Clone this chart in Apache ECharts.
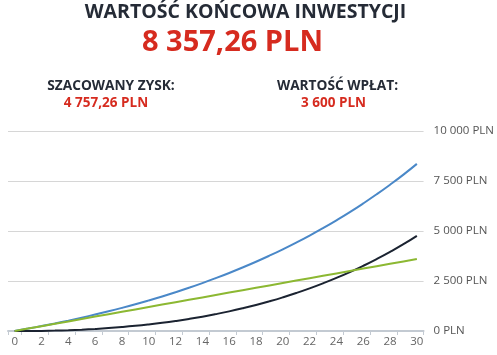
<!DOCTYPE html>
<html>
<head>
<meta charset="utf-8">
<script src="https://cdn.jsdelivr.net/npm/echarts@6/dist/echarts.min.js"></script>
<style>
html,body{margin:0;padding:0;background:#fff;}
#c{width:497px;height:355px;}
</style>
</head>
<body>
<div id="c"></div>
<script>
var years = ['0','1','2','3','4','5','6','7','8','9','10','11','12','13','14','15','16','17','18','19','20','21','22','23','24','25','26','27','28','29','30'];
var totalValue = [0,120,246,379,519,667,822,985,1157,1338,1529,1729,1940,2162,2396,2643,2902,3175,3462,3765,4083,4418,4771,5143,5534,5945,6379,6835,7315,7820,8357.26];
var contributions = [0,120,240,360,480,600,720,840,960,1080,1200,1320,1440,1560,1680,1800,1920,2040,2160,2280,2400,2520,2640,2760,2880,3000,3120,3240,3360,3480,3600];
var profit = [0,0,6,19,39,67,102,145,197,258,329,409,500,602,716,843,982,1135,1302,1485,1683,1898,2131,2383,2654,2945,3259,3595,3955,4340,4757.26];
var yTicks = [0,2500,5000,7500,10000];
var headTitle = 'WARTOŚĆ KOŃCOWA INWESTYCJI';
var headValue = '8 357,26 PLN';
var leftLabel = 'SZACOWANY ZYSK:';
var leftValue = '4 757,26 PLN';
var rightLabel = 'WARTOŚĆ WPŁAT:';
var rightValue = '3 600 PLN';

function fmt(v){
  return String(v).replace(/\B(?=(\d{3})+(?!\d))/g,' ') + ' PLN';
}

var chart = echarts.init(document.getElementById('c'), null, {renderer:'canvas'});
var dark = '#252b36', red = '#d62b1f', ff = '"Open Sans", sans-serif';
chart.setOption({
  animation:false,
  graphic:[
    {type:'text', x:245.5, y:12.5, style:{text:headTitle, fill:dark, font:'bold 19.5px '+ff, align:'center', verticalAlign:'middle'}},
    {type:'text', x:232.5, y:42.5, style:{text:headValue, fill:red, font:'bold 29px '+ff, align:'center', verticalAlign:'middle'}},
    {type:'text', x:111, y:86, style:{text:leftLabel, fill:dark, font:'bold 13.7px '+ff, align:'center', verticalAlign:'middle'}},
    {type:'text', x:106, y:103.5, style:{text:leftValue, fill:red, font:'bold 13.5px '+ff, align:'center', verticalAlign:'middle'}},
    {type:'text', x:337.5, y:86, style:{text:rightLabel, fill:dark, font:'bold 13.7px '+ff, align:'center', verticalAlign:'middle'}},
    {type:'text', x:333.5, y:103.5, style:{text:rightValue, fill:red, font:'bold 13.5px '+ff, align:'center', verticalAlign:'middle'}}
  ],
  grid:{left:8, right:71, top:131, bottom:24, containLabel:false},
  xAxis:{
    type:'category', data:years, boundaryGap:true,
    axisLine:{show:true, lineStyle:{color:'#c3cad2', width:2}},
    axisTick:{show:true, length:4, lineStyle:{color:'#c3cad2', width:1},
      interval:function(i){ return i===0 || i%2===1; }},
    axisLabel:{interval:1, color:'#666', fontSize:11.5, fontFamily:ff, margin:5}
  },
  yAxis:{
    type:'value', position:'right', min:0, max:10000, interval:2500,
    axisLine:{show:false}, axisTick:{show:false},
    splitLine:{lineStyle:{color:'#d6d6d6', width:1}},
    axisLabel:{color:'#555', fontSize:11.5, fontFamily:ff, margin:10, formatter:function(v){return fmt(v);}}
  },
  series:[
    {name:'Wartość', type:'line', data:totalValue, showSymbol:false, smooth:true, lineStyle:{color:'#4a88c8', width:2}, itemStyle:{color:'#4a88c8'}},
    {name:'Zysk', type:'line', data:profit, showSymbol:false, smooth:true, lineStyle:{color:'#1b2331', width:2}, itemStyle:{color:'#1b2331'}},
    {name:'Wpłaty', type:'line', data:contributions, showSymbol:false, lineStyle:{color:'#8cb832', width:2}, itemStyle:{color:'#8cb832'}}
  ]
});
</script>
</body>
</html>
